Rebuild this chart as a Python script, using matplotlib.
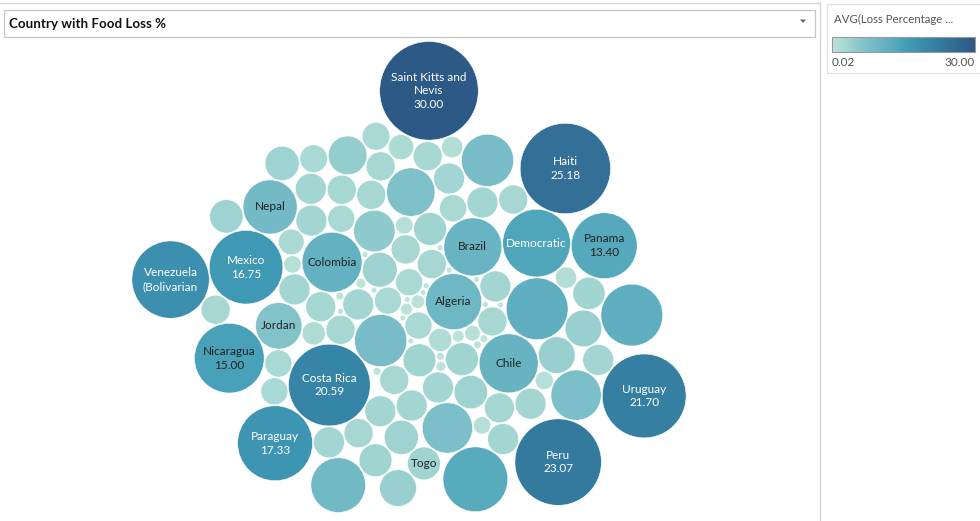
import math
import numpy as np
import matplotlib
matplotlib.use("Agg")
import matplotlib.pyplot as plt
from matplotlib.patches import Circle, Rectangle, Polygon
from matplotlib.colors import LinearSegmentedColormap, Normalize

# ---------------- data (packing order: inner -> outer) ----------------
values = [0.57, 9.70, 0.10, 2.26, 0.10, 0.42, 2.26, 2.26, 8.41, 2.60,
          3.74, 1.66, 2.95, 10.38, 2.60, 0.10, 3.33, 0.42, 0.29, 0.74,
          2.60, 3.33, 11.09, 2.95, 3.33, 2.60, 5.33, 2.60, 10.73, 0.18,
          20.59, 0.29, 2.77, 11.81, 2.95, 0.18, 14.13, 0.93, 1.66, 7.21,
          0.18, 3.45, 2.26, 2.95, 0.10, 2.95, 0.10, 2.26, 6.65, 0.10,
          0.18, 2.95, 2.95, 2.60, 7.80, 0.93, 2.95, 2.95, 4.16, 16.75,
          0.10, 2.77, 2.60, 2.04, 2.60, 1.40, 0.10, 3.61, 2.26, 2.60,
          2.95, 4.16, 0.18, 8.41, 2.60, 9.04, 2.95, 0.10, 3.22, 2.60,
          15.00, 0.10, 1.00, 13.40, 0.93, 25.18, 7.80, 4.61, 2.26, 2.95,
          1.95, 0.10, 2.95, 0.10, 3.33, 3.33, 17.33, 12.95, 0.10, 2.95,
          11.81, 23.07, 1.40, 2.36, 2.36, 2.60, 30.00, 3.61, 9.24, 3.45,
          21.70, 4.16, 18.46]

countries = [""] * len(values)
named = {1: "Algeria", 13: "Brazil", 22: "Colombia", 28: "Chile",
         30: "Costa Rica", 36: "Democratic Republic of the Congo",
         48: "Jordan", 59: "Mexico", 75: "Nepal", 80: "Nicaragua",
         83: "Panama", 85: "Haiti", 94: "Togo", 96: "Paraguay",
         101: "Peru", 106: "Saint Kitts and Nevis",
         110: "Uruguay", 112: "Venezuela (Bolivarian Republic of)"}
for idx, nm in named.items():
    countries[idx] = nm

legend_title = "AVG(Loss Percentage ..."
legend_min, legend_max = 0.02, 30.00
title = "Country with Food Loss %"

# ---------------- label styling ----------------
label_lines = {"Saint Kitts and Nevis": ["Saint Kitts and", "Nevis"],
               "Venezuela (Bolivarian Republic of)": ["Venezuela", "(Bolivarian"],
               "Democratic Republic of the Congo": ["Democratic"]}
show_value = {"Saint Kitts and Nevis", "Haiti", "Mexico", "Nicaragua",
              "Paraguay", "Panama", "Peru", "Uruguay", "Costa Rica"}
white_text = {"Saint Kitts and Nevis", "Haiti", "Mexico", "Paraguay",
              "Peru", "Uruguay", "Costa Rica",
              "Venezuela (Bolivarian Republic of)",
              "Democratic Republic of the Congo"}

cmap = LinearSegmentedColormap.from_list("blueteal", [
    (0.00, "#bde4d9"), (0.11, "#a0d4d1"), (0.22, "#82c3ca"),
    (0.30, "#73bac6"), (0.37, "#64b1c1"), (0.45, "#55a9bc"),
    (0.50, "#47a1b8"), (0.56, "#3f98b4"), (0.69, "#3784a6"),
    (0.72, "#3580a3"), (0.84, "#336f96"), (1.00, "#2c5985")])
norm = Normalize(legend_min, legend_max)

SIZE_K = 9.0                 # px radius per sqrt(value)
GAP = 1.0 * SIZE_K / 9.2     # px between bubbles (scales with size)
ASPECT = 1.17                # cluster width / height
CENTER = (409, 277)
FLIP_Y = True                # mirror the packed layout top <-> bottom


# ---------------- greedy packing: each bubble, in order, goes to the
# free tangent spot nearest the cluster centre (elliptical metric) --------
def greedy_pack(radii, aspect, gap):
    n = len(radii)
    R = np.asarray(radii, float) + gap / 2.0
    X = np.zeros(n)
    Y = np.zeros(n)
    if n > 1:
        X[1] = R[0] + R[1]
    for k in range(2, n):
        r = R[k]
        px, py, pr = X[:k], Y[:k], R[:k]
        ii, jj = np.triu_indices(k, 1)
        dx = px[jj] - px[ii]
        dy = py[jj] - py[ii]
        d = np.hypot(dx, dy)
        ra = pr[ii] + r
        rb = pr[jj] + r
        ok = (d < ra + rb) & (d > np.abs(ra - rb)) & (d > 0)
        ii, jj, dx, dy, d, ra, rb = [a[ok] for a in (ii, jj, dx, dy, d, ra, rb)]
        a = (ra ** 2 - rb ** 2 + d ** 2) / (2 * d)
        h = np.sqrt(np.maximum(ra ** 2 - a ** 2, 0))
        mx = px[ii] + a * dx / d
        my = py[ii] + a * dy / d
        cx = np.concatenate([mx - h * dy / d, mx + h * dy / d])
        cy = np.concatenate([my + h * dx / d, my - h * dx / d])
        ddx = cx[:, None] - px[None, :]
        ddy = cy[:, None] - py[None, :]
        valid = np.all(ddx ** 2 + ddy ** 2 >= (pr[None, :] + r - 1e-6) ** 2, axis=1)
        cx, cy = cx[valid], cy[valid]
        metric = (cx / aspect) ** 2 + cy ** 2
        best = int(np.argmin(metric))
        X[k], Y[k] = cx[best], cy[best]
    return X, Y


radii = np.array([SIZE_K * math.sqrt(v) for v in values])
xs, ys = greedy_pack(radii, ASPECT, GAP)
if FLIP_Y:
    ys = -ys
bx = (np.min(xs - radii) + np.max(xs + radii)) / 2
by = (np.min(ys - radii) + np.max(ys + radii)) / 2
xs = xs - bx + CENTER[0]
ys = ys - by + CENTER[1]

# ---------------- figure ----------------
W, H = 980, 521
fig = plt.figure(figsize=(W / 100, H / 100), dpi=100)
ax = fig.add_axes([0, 0, 1, 1])
ax.set_xlim(0, W)
ax.set_ylim(H, 0)
ax.axis("off")

LABEL_FONT = ["Lato", "DejaVu Sans"]

for x, y, r, v, name in zip(xs, ys, radii, values, countries):
    ax.add_patch(Circle((x, y), r, facecolor=cmap(norm(v)),
                        edgecolor="white", linewidth=0.4, zorder=2))
    if name:
        lines = list(label_lines.get(name, [name]))
        if name in show_value:
            lines.append(f"{v:.2f}")
        col = "white" if name in white_text else "#222222"
        ax.text(x, y, "\n".join(lines), ha="center", va="center",
                fontsize=8.5, color=col, family=LABEL_FONT,
                linespacing=1.3, zorder=3)

# frame lines
ax.plot([0, 820], [3, 3], color="#d4d4d4", lw=1, zorder=1)
ax.plot([820, 820], [3, H], color="#d4d4d4", lw=1, zorder=1)

# title box
ax.add_patch(Rectangle((4, 10), 811, 27, facecolor="white",
                       edgecolor="#c6c6c6", lw=0.9, zorder=4))
ax.text(9, 24, title, ha="left", va="center", fontsize=9.6,
        fontweight="bold", family=LABEL_FONT, color="#111111", zorder=5)
ax.add_patch(Polygon([[800, 19.5], [806, 19.5], [803, 23]], closed=True,
                     facecolor="#666666", edgecolor="none", zorder=5))

# legend box
ax.add_patch(Rectangle((827, 4), 160, 69, facecolor="white",
                       edgecolor="#e0e0e0", lw=0.9, zorder=4))
ax.text(834, 19, legend_title, ha="left", va="center", fontsize=8.2,
        family=LABEL_FONT, color="#555555", zorder=5)
grad = np.linspace(0, 1, 256).reshape(1, -1)
ax.imshow(grad, cmap=cmap, aspect="auto", extent=(832, 975, 52, 37),
          zorder=5, interpolation="bilinear")
ax.add_patch(Rectangle((832, 37), 143, 15, facecolor="none",
                       edgecolor="#999999", lw=0.8, zorder=6))
ax.text(832, 62, f"{legend_min:.2f}", ha="left", va="center", fontsize=8.5,
        family=LABEL_FONT, color="#555555", zorder=5)
ax.text(975, 62, f"{legend_max:.2f}", ha="right", va="center", fontsize=8.5,
        family=LABEL_FONT, color="#555555", zorder=5)
ax.set_xlim(0, W)
ax.set_ylim(H, 0)

fig.savefig("out.png", dpi=100)
